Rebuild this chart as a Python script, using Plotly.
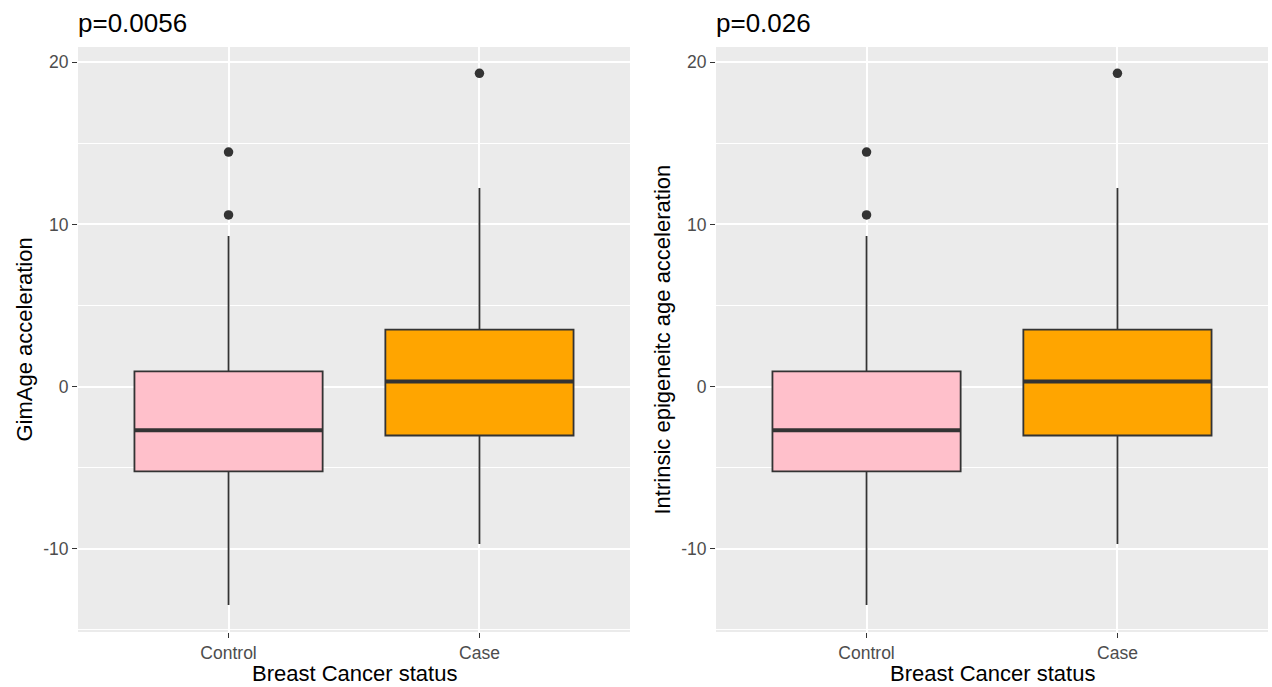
import plotly.graph_objects as go

# ---- data ----
categories = ["Control", "Case"]
cat_pos = [1, 2]
fill_colors = ["#FFC0CB", "#FFA500"]
q1 = [-5.23, -3.02]
median = [-2.70, 0.31]
q3 = [0.93, 3.51]
lower_whisker = [-13.48, -9.72]
upper_whisker = [9.29, 12.25]
outlier_x = [1, 1, 2]
outlier_y = [14.46, 10.58, 19.32]

panel_titles = ["p=0.0056", "p=0.026"]
y_titles = ["GimAge acceleration", "Intrinsic epigeneitc age acceleration"]
x_title = "Breast Cancer status"
y_ticks = [-10, 0, 10, 20]
y_tick_text = [str(v) for v in y_ticks]

W, H = 1272, 687
FONT = "Liberation Sans, Arial, Helvetica, sans-serif"
LINE = "#333333"


def px(x):  # page x pixel -> paper
    return x / W


def py(y):  # page y pixel -> paper
    return 1 - y / H


fig = go.Figure()

panels = [(78, 630), (716, 1268)]
top_px, bot_px = 47, 632
ydom = [py(bot_px), py(top_px)]

for p, (x0, x1) in enumerate(panels):
    xa = "x" if p == 0 else "x2"
    ya = "y" if p == 0 else "y2"
    for i in range(len(categories)):
        fig.add_trace(go.Box(
            x=[cat_pos[i]], q1=[q1[i]], median=[median[i]], q3=[q3[i]],
            lowerfence=[lower_whisker[i]], upperfence=[upper_whisker[i]],
            width=0.75, whiskerwidth=0, fillcolor=fill_colors[i],
            line=dict(color=LINE, width=1.8), boxpoints=False,
            xaxis=xa, yaxis=ya, showlegend=False, hoverinfo="skip"))
        # thicker median line (ggplot fatten)
        fig.add_trace(go.Scatter(
            x=[cat_pos[i] - 0.375, cat_pos[i] + 0.375], y=[median[i], median[i]],
            mode="lines", line=dict(color=LINE, width=4),
            xaxis=xa, yaxis=ya, showlegend=False, hoverinfo="skip"))
    fig.add_trace(go.Scatter(
        x=outlier_x, y=outlier_y, mode="markers",
        marker=dict(color=LINE, size=9.5),
        xaxis=xa, yaxis=ya, showlegend=False, hoverinfo="skip"))

    axis_common = dict(showline=False, zeroline=False, automargin=False,
                       ticks="outside", ticklen=5, tickwidth=1.2, tickcolor=LINE,
                       tickfont=dict(family=FONT, size=17.5, color="#4D4D4D"),
                       showgrid=True, gridcolor="white", gridwidth=1.5)
    xkey = "xaxis" if p == 0 else "xaxis2"
    ykey = "yaxis" if p == 0 else "yaxis2"
    fig.layout[xkey] = dict(
        axis_common, domain=[px(x0), px(x1)], range=[0.4, 2.6],
        tickvals=cat_pos, ticktext=categories, anchor=ya)
    fig.layout[ykey] = dict(
        axis_common, domain=ydom, range=[-15.14, 20.94],
        tickvals=y_ticks, ticktext=y_tick_text, anchor=xa,
        minor=dict(tickvals=[-15, -5, 5, 15], showgrid=True,
                   gridcolor="white", gridwidth=0.7, ticks=""))
    # panel title
    fig.add_annotation(
        text=panel_titles[p], xref="paper", yref="paper",
        x=px(x0 - 2), y=py(23), xanchor="left", yanchor="middle",
        showarrow=False, font=dict(family=FONT, size=26, color="black"))
    # x axis title
    fig.add_annotation(
        text=x_title, xref="paper", yref="paper",
        x=px((x0 + x1) / 2), y=py(673.5), xanchor="center", yanchor="middle",
        showarrow=False, font=dict(family=FONT, size=22, color="black"))
    # y axis title
    fig.add_annotation(
        text=y_titles[p], xref="paper", yref="paper", textangle=-90,
        x=px(x0 - 54), y=py((top_px + bot_px) / 2), xanchor="center", yanchor="middle",
        showarrow=False, font=dict(family=FONT, size=22, color="black"))

fig.update_layout(width=W, height=H, margin=dict(l=0, r=0, t=0, b=0),
                  paper_bgcolor="white", plot_bgcolor="#EBEBEB",
                  font=dict(family=FONT))

fig.write_html("out.html", config={"displayModeBar": False},
               post_script="document.body.style.margin='0';document.body.style.overflow='hidden';")
